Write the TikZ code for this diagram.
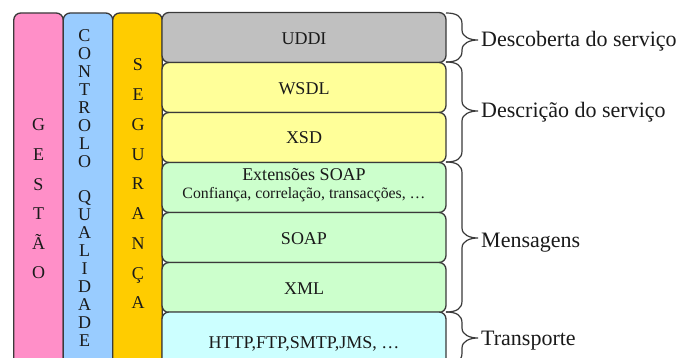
\documentclass[tikz,border=0pt]{standalone}
\usepackage{fontspec}
\newfontfamily\timesf{Liberation Serif}
\definecolor{gestaoc}{HTML}{FF8FC8}
\definecolor{qualc}{HTML}{99CCFF}
\definecolor{segc}{HTML}{FFCC00}
\definecolor{uddic}{HTML}{C0C0C0}
\definecolor{descc}{HTML}{FFFF99}
\definecolor{msgc}{HTML}{CCFFCC}
\definecolor{transc}{HTML}{CCFFFF}
\definecolor{edgec}{HTML}{3A3A3A}
\definecolor{inkc}{HTML}{1A1A1A}
\tikzset{
  panel/.style={draw=edgec, line width=1.3pt, rounded corners=7pt, inner sep=0pt},
  colbox/.style={panel, minimum width=49.5pt, minimum height=372pt},
  layerbox/.style={panel, minimum width=284pt, minimum height=50pt},
  boxtext/.style={inner sep=0pt, anchor=base, text=inkc, font=\timesf\fontsize{18}{20}\selectfont},
  smalltext/.style={inner sep=0pt, anchor=base, text=inkc, font=\timesf\fontsize{15.8}{18}\selectfont},
  sidetext/.style={inner sep=0pt, anchor=base west, text=inkc, font=\timesf\fontsize{22}{24}\selectfont},
  brc/.style={draw=edgec, line width=1.2pt},
}
% right-hand curly brace: top, tip, bottom (y values)
\newcommand\layerbrace[3]{%
  \draw[brc] (446,#1) .. controls (456,#1) and (462,#1+3) .. (462,#1+11)
    -- (462,#2-10) .. controls (462,#2-3) and (470,#2) .. (478,#2)
    .. controls (470,#2) and (462,#2+3) .. (462,#2+10)
    -- (462,#3-11) .. controls (462,#3-3) and (456,#3) .. (446,#3);}
\begin{document}
\begin{tikzpicture}[x=1pt,y=-1pt]
\useasboundingbox (0,0) rectangle (690,358);
\clip (0,0) rectangle (690,358);
\fill[white] (0,0) rectangle (690,358);

% vertical columns
\node[colbox, fill=gestaoc] (gestao) at (38.5,199) {};
\node[colbox, fill=qualc] (qual) at (88,199) {};
\node[colbox, fill=segc] (seg) at (137.5,199) {};

\node[inner sep=0pt, align=center, text=inkc, font=\timesf\fontsize{18}{29.6}\selectfont]
  (gestaot) at (38.5,199) {G\\E\\S\\T\\Ã\\O};
\node[inner sep=0pt, align=center, text=inkc, font=\timesf\fontsize{18}{17.9}\selectfont]
  (qualt) at (84.5,188) {C\\O\\N\\T\\R\\O\\L\\O\\[17.9pt]Q\\U\\A\\L\\I\\D\\A\\D\\E};
\node[inner sep=0pt, align=center, text=inkc, font=\timesf\fontsize{18}{29.75}\selectfont]
  (segt) at (138,184) {S\\E\\G\\U\\R\\A\\N\\Ç\\A};

% protocol layers
\node[layerbox, fill=uddic] (uddi) at (304,37.5) {};
\node[layerbox, fill=descc] (wsdl) at (304,87.5) {};
\node[layerbox, fill=descc] (xsd) at (304,137.5) {};
\node[layerbox, fill=msgc] (ext) at (304,187.5) {};
\node[layerbox, fill=msgc] (soap) at (304,237.5) {};
\node[layerbox, fill=msgc] (xml) at (304,287.5) {};
\node[layerbox, fill=transc, minimum height=60pt] (trans) at (304,342) {};

\node[boxtext] (uddit) at (304,45) {UDDI};
\node[boxtext] (wsdlt) at (304,95) {WSDL};
\node[boxtext] (xsdt) at (304,144) {XSD};
\node[boxtext] (extt) at (304,181) {Extensões SOAP};
\node[smalltext] (extd) at (304,198) {Confiança, correlação, transacções, …};
\node[boxtext] (soapt) at (304,244) {SOAP};
\node[boxtext] (xmlt) at (304,294) {XML};
\node[boxtext] (transt) at (304,348) {HTTP,FTP,SMTP,JMS, …};

% grouping braces and their labels
\layerbrace{13}{40}{62}
\layerbrace{62}{111}{162}
\layerbrace{162}{238}{312}
\layerbrace{312}{338}{364}

\node[sidetext] (lab1) at (481,47) {Descoberta do serviço};
\node[sidetext] (lab2) at (481,118) {Descrição do serviço};
\node[sidetext] (lab3) at (481,247) {Mensagens};
\node[sidetext] (lab4) at (481,345) {Transporte};
\end{tikzpicture}
\end{document}
